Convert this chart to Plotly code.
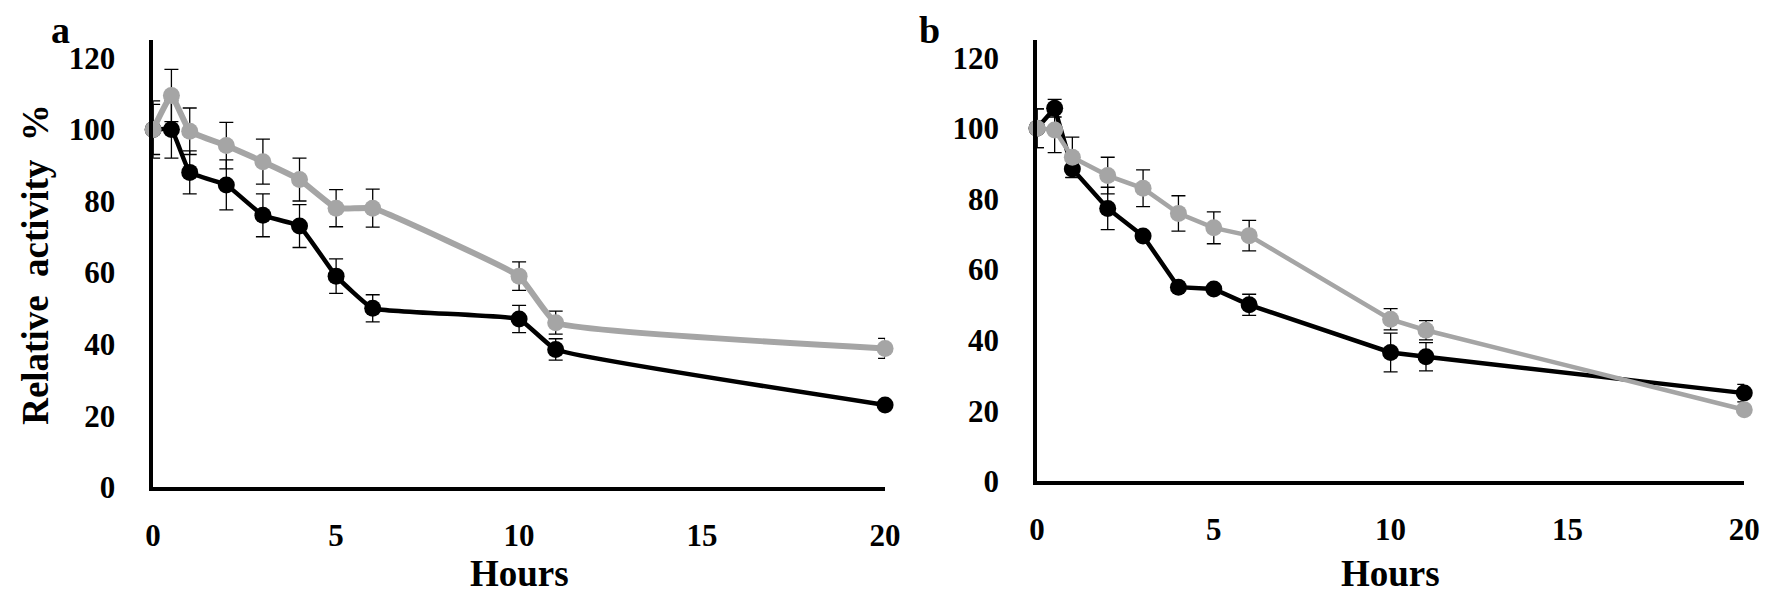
import plotly.graph_objects as go

W, H = 1772, 601

# ---------------- data ----------------
hours = [0, 0.5, 1, 2, 3, 4, 5, 6, 10, 11, 20]

a_black = [100, 100, 88, 84.5, 76, 73, 59, 50, 47, 38.5, 23]
a_black_err = [7, 8, 6, 7, 6, 6, 4.8, 3.8, 3.8, 3, 0]
a_gray = [100, 109.5, 99.5, 95.5, 91, 86, 78, 78, 59, 46, 38.8]
a_gray_err = [8, 7.3, 6.5, 6.5, 6.3, 6, 5.2, 5.3, 4, 3.2, 2.8]

b_black = [100, 105.7, 88.5, 77.3, 69.5, 55, 54.5, 50, 36.5, 35.3, 25]
b_black_err = [5.5, 2.5, 2.5, 6, 1, 0, 0, 3, 5.5, 4, 2.5]
b_gray = [100, 99.5, 91.8, 86.6, 83, 75.9, 71.8, 69.6, 45.9, 42.8, 20.3]
b_gray_err = [5.5, 6.4, 5.7, 5.2, 5.2, 5, 4.5, 4.3, 3, 2.7, 0]

x_ticks = [0, 5, 10, 15, 20]
y_ticks = [0, 20, 40, 60, 80, 100, 120]

BLACK = "#000000"
GRAY = "#a5a5a5"
FONT = "Liberation Serif"


def px_x(p):
    return p / W


def px_y(p):
    return (H - p) / H


fig = go.Figure()


def add(x, y, err, color, lw, xa, ya, shape):
    fig.add_trace(go.Scatter(
        x=x, y=y, xaxis=xa, yaxis=ya, mode="lines+markers",
        line=dict(color=color, width=lw, shape=shape, smoothing=0.3),
        marker=dict(color=color, size=17),
        error_y=dict(type="data", array=err, visible=True, color="#000000",
                     thickness=1.3, width=7),
        cliponaxis=False, showlegend=False,
    ))


add(hours, a_black, a_black_err, BLACK, 4.5, "x", "y", "spline")
add(hours, a_gray, a_gray_err, GRAY, 6, "x", "y", "spline")
add(hours, b_black, b_black_err, BLACK, 4.5, "x2", "y2", "linear")
add(hours, b_gray, b_gray_err, GRAY, 4.5, "x2", "y2", "linear")

tickfont = dict(family=FONT, size=31, color="#000000", weight="bold")

xcommon = dict(range=[0, 20], tickvals=x_ticks, showgrid=False, zeroline=False,
               showline=True, linecolor="#000000", linewidth=3.5, ticks="",
               tickfont=tickfont, ticklabelstandoff=18)
ycommon = dict(range=[0, 125], tickvals=y_ticks, showgrid=False, zeroline=False,
               showline=True, linecolor="#000000", linewidth=3.5, ticks="",
               tickfont=tickfont, ticklabelstandoff=28)

fig.update_layout(
    width=W, height=H,
    margin=dict(l=0, r=0, t=0, b=0),
    paper_bgcolor="white", plot_bgcolor="white",
    xaxis=dict(domain=[px_x(139), px_x(881)], anchor="y", **xcommon),
    yaxis=dict(domain=[px_y(494), px_y(33)], anchor="x", **ycommon),
    xaxis2=dict(domain=[px_x(1035), px_x(1752)], anchor="y2", **xcommon),
    yaxis2=dict(domain=[px_y(488), px_y(33)], anchor="x2", **ycommon),
)

ann_font = dict(family=FONT, size=37, color="#000000")
annotations = [
    dict(text="<b>Hours</b>", x=px_x(510), y=px_y(583), yanchor="middle"),
    dict(text="<b>Hours</b>", x=px_x(1393), y=px_y(583), yanchor="middle"),
    dict(text="<b>Relative  activity  %</b>", x=px_x(19), y=px_y(264), textangle=-90,
         yanchor="middle"),
    dict(text="<b>a</b>", x=px_x(45), y=1, yanchor="top",
         font=dict(family=FONT, size=38, color="#000")),
    dict(text="<b>b</b>", x=px_x(926), y=1, yanchor="top",
         font=dict(family=FONT, size=38, color="#000")),
]
for a in annotations:
    a.setdefault("font", ann_font)
    fig.add_annotation(xref="paper", yref="paper", showarrow=False,
                       xanchor="center", borderpad=0, **a)

fig.write_html("out.html")
